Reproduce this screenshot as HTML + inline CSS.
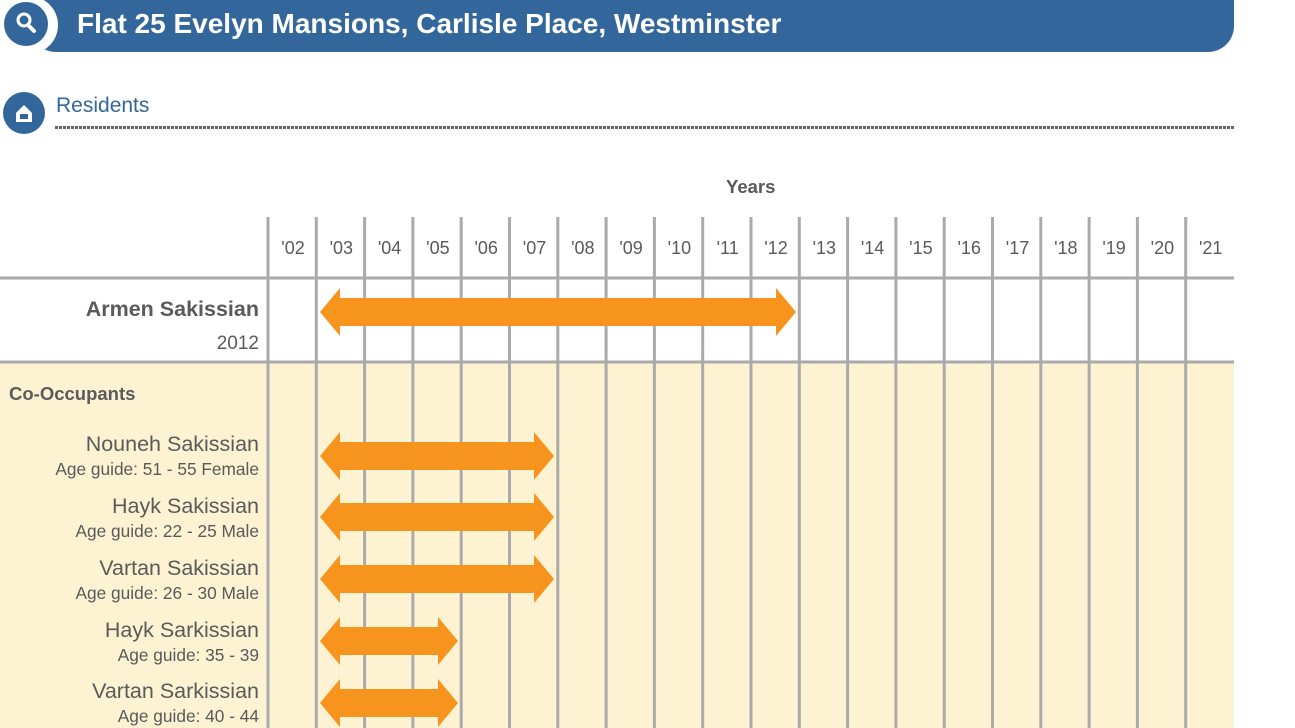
<!DOCTYPE html>
<html><head><meta charset="utf-8"><style>
body{margin:0;width:1295px;height:728px;overflow:hidden;background:#fff;font-family:"Liberation Sans",sans-serif;position:relative}
.t{position:absolute;white-space:nowrap;color:#5a5a5a}
.r{text-align:right;width:259px;left:0}
</style></head><body>
<svg width="1295" height="728" style="position:absolute;left:0;top:0">
<rect x="30" y="-30" width="1204" height="82" rx="26" fill="#33679c"/>
<circle cx="29" cy="25" r="29" fill="#fff"/>
<circle cx="26" cy="24" r="22" fill="#33679c"/>
<circle cx="24" cy="20" r="6" fill="none" stroke="#fff" stroke-width="3"/>
<line x1="28" y1="25" x2="34" y2="31" stroke="#fff" stroke-width="4" stroke-linecap="round"/>
<circle cx="24" cy="113" r="21" fill="#33679c"/>
<path d="M16 113 L24 105 L32 113 V122 H16 Z" fill="#fff"/>
<rect x="20" y="114" width="8" height="5" fill="#33679c"/>
<line x1="55" y1="127.5" x2="1234" y2="127.5" stroke="#666" stroke-width="3" stroke-dasharray="3,1"/>
<rect x="0" y="362" width="1234" height="366" fill="#fdf3d3"/>
<line x1="0" y1="278" x2="1234" y2="278" stroke="#aaa" stroke-width="3"/>
<line x1="0" y1="362" x2="1234" y2="362" stroke="#aaa" stroke-width="3"/>
<g stroke="#aaa" stroke-width="3" id="v"></g>
<g fill="#f7941d" id="a"></g>
</svg>
<div class="t" style="left:30px;top:8px;width:800px;padding-left:47px;color:#fff;font-weight:bold;font-size:28px">Flat 25 Evelyn Mansions, Carlisle Place, Westminster</div>
<div class="t" style="left:56px;top:94px;font-size:21px;color:#33679c">Residents</div>
<div class="t" style="left:726px;top:176px;font-size:18.5px;font-weight:bold">Years</div>
<div id="yl"></div>
<div class="t r" style="top:297px;font-size:21.5px;font-weight:bold">Armen Sakissian</div>
<div class="t r" style="top:333px;font-size:19px">2012</div>
<div class="t" style="left:9px;top:383px;font-size:18.5px;font-weight:bold">Co-Occupants</div>
<div class="t r" style="top:432px;font-size:21.5px">Nouneh Sakissian</div>
<div class="t r" style="top:459px;font-size:17.3px">Age guide: 51 - 55 Female</div>
<div class="t r" style="top:494px;font-size:21.5px">Hayk Sakissian</div>
<div class="t r" style="top:521px;font-size:17.3px">Age guide: 22 - 25 Male</div>
<div class="t r" style="top:556px;font-size:21.5px">Vartan Sakissian</div>
<div class="t r" style="top:583px;font-size:17.3px">Age guide: 26 - 30 Male</div>
<div class="t r" style="top:618px;font-size:21.5px">Hayk Sarkissian</div>
<div class="t r" style="top:645px;font-size:17.3px">Age guide: 35 - 39</div>
<div class="t r" style="top:679px;font-size:21.5px">Vartan Sarkissian</div>
<div class="t r" style="top:706px;font-size:17.3px">Age guide: 40 - 44</div>
<script>
var ns="http://www.w3.org/2000/svg",v=document.getElementById('v'),yl=document.getElementById('yl');
for(var i=0;i<20;i++){var x=268+i*48.3;var l=document.createElementNS(ns,'line');l.setAttribute('x1',x);l.setAttribute('x2',x);l.setAttribute('y1',217);l.setAttribute('y2',728);v.appendChild(l);
var d=document.createElement('div');d.className='t';d.style.cssText='left:'+(x+1)+'px;top:238px;width:48px;text-align:center;font-size:18px';d.textContent="'"+String(i+2).padStart(2,'0');yl.appendChild(d);}
var a=document.getElementById('a');
function arr(x1,x2,cy){var p=document.createElementNS(ns,'polygon');var h=20;p.setAttribute('points',[x1,cy,x1+h,cy-24,x1+h,cy-14,x2-h,cy-14,x2-h,cy-24,x2,cy,x2-h,cy+24,x2-h,cy+14,x1+h,cy+14,x1+h,cy+24].join(' '));a.appendChild(p);}
arr(320,796,312);arr(320,554,456);arr(320,554,517);arr(320,554,579);arr(320,458,641);arr(320,458,703);
</script>
</body></html>
